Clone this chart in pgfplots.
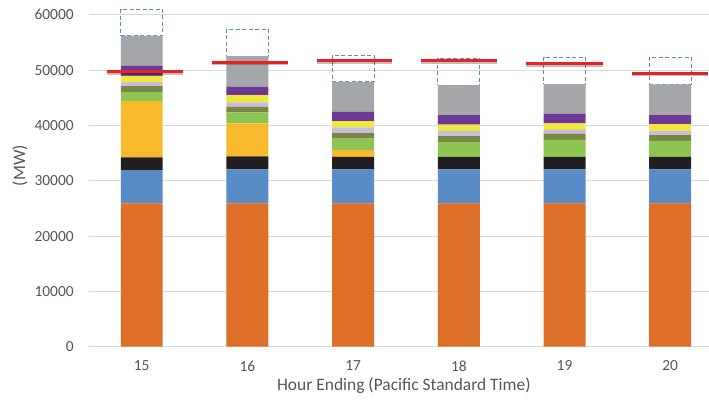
\documentclass[border=0pt]{standalone}
\usepackage{pgfplots}
\pgfplotsset{compat=1.18}
\usepackage{pgfplotstable}
\usepackage{fontspec}
\setmainfont{Carlito}

\definecolor{cOrange}{RGB}{222,111,40}
\definecolor{cBlue}{RGB}{89,139,199}
\definecolor{cBlack}{RGB}{35,31,32}
\definecolor{cGold}{RGB}{246,186,44}
\definecolor{cGreen}{RGB}{141,197,84}
\definecolor{cOlive}{RGB}{122,134,68}
\definecolor{cLav}{RGB}{200,190,220}
\definecolor{cYellow}{RGB}{238,232,60}
\definecolor{cPurple}{RGB}{112,56,150}
\definecolor{cGray}{RGB}{165,166,169}
\definecolor{cDash}{RGB}{91,141,201}
\definecolor{cRed}{RGB}{232,34,34}
\definecolor{gridgray}{RGB}{217,217,217}
\definecolor{txtgray}{RGB}{85,85,85}

% hour ending 15..20 plotted at 0..5
\pgfplotstableread{
x orange blue black gold green olive lav yellow purple gray slack
0 25900 6000 2320 10180 1620 1090 720 1140 1810 5420 4820
1 25900 6150 2350 5970 1980 1020 790 1320 1500 5550 4880
2 25900 6150 2280 1210 2050 1030 1020 1140 1680 5430 4820
3 25900 6150 2280 0 2660 1080 910 1140 1750 5420 4820
4 25900 6150 2280 0 3070 1090 720 1160 1730 5370 4820
5 25900 6150 2280 0 2890 1030 730 1260 1630 5540 4880
}\gen

\pgfplotstableread{
x y
-0.33 49690
0.39 49690
0.5 nan
0.66 51390
1.38 51390
1.5 nan
1.66 51680
2.37 51680
2.5 nan
2.64 51680
3.36 51680
3.5 nan
3.64 51140
4.36 51140
4.5 nan
4.64 49400
5.36 49400
}\load

\pgfplotsset{base/.style={
  scale only axis, width=620.1bp, height=343bp,
  xmin=-0.5, xmax=5.367, ymin=0, ymax=62000,
}}

\begin{document}
\begin{tikzpicture}
\begin{axis}[base,
  ybar stacked, bar width=0.397,
  axis line style={draw=none},
  major tick length=0,
  ymajorgrids, grid style={draw=gridgray, line width=0.9bp},
  ytick={0,10000,...,60000},
  xtick={0,1,2,3,4,5}, xticklabels={15,16,17,18,19,20},
  scaled y ticks=false,
  /pgf/number format/1000 sep={},
  /pgf/number format/assume math mode=true,
  tick label style={font=\fontsize{15.5}{18}\selectfont, text=txtgray},
  yticklabel style={anchor=east, inner sep=0pt, xshift=-15bp},
  xticklabel style={anchor=north, inner sep=0pt, yshift=-14bp},
  xlabel={Hour Ending (Pacific Standard Time)},
  xlabel style={font=\fontsize{17.5}{20}\selectfont, text=txtgray, anchor=north, inner sep=0pt, at={(axis description cs:0.508,0)}, yshift=-30.5bp},
  ylabel={(MW)},
  ylabel style={font=\fontsize{17.5}{20}\selectfont, text=txtgray, anchor=center, at={(axis description cs:-0.1111,0.528)}},
]
\addplot[fill=cOrange, draw=none] table[x=x, y=orange] {\gen};
\addplot[fill=cBlue, draw=none] table[x=x, y=blue] {\gen};
\addplot[fill=cBlack, draw=none] table[x=x, y=black] {\gen};
\addplot[fill=cGold, draw=none] table[x=x, y=gold] {\gen};
\addplot[fill=cGreen, draw=none] table[x=x, y=green] {\gen};
\addplot[fill=cOlive, draw=none] table[x=x, y=olive] {\gen};
\addplot[fill=cLav, draw=none] table[x=x, y=lav] {\gen};
\addplot[fill=cYellow, draw=none] table[x=x, y=yellow] {\gen};
\addplot[fill=cPurple, draw=none] table[x=x, y=purple] {\gen};
\addplot[fill=cGray, draw=none] table[x=x, y=gray] {\gen};
\addplot[fill=none, draw=cDash, line width=1bp, dash pattern=on 4bp off 2.5bp] table[x=x, y=slack] {\gen};
\coordinate (bl) at (rel axis cs:0,0);
\coordinate (tr) at (rel axis cs:1,1);
\end{axis}
\begin{axis}[base, axis lines=none, unbounded coords=jump]
\addplot[draw=black, opacity=0.25, line width=3.2bp] table[x=x, y expr=\thisrow{y}-220] {\load};
\addplot[draw=cRed, line width=3.2bp] table[x=x, y=y] {\load};
\end{axis}
\pgfresetboundingbox
\path ([xshift=-88.9bp,yshift=-59.3bp]bl) rectangle ([yshift=3.7bp]tr);
\end{tikzpicture}
\end{document}
